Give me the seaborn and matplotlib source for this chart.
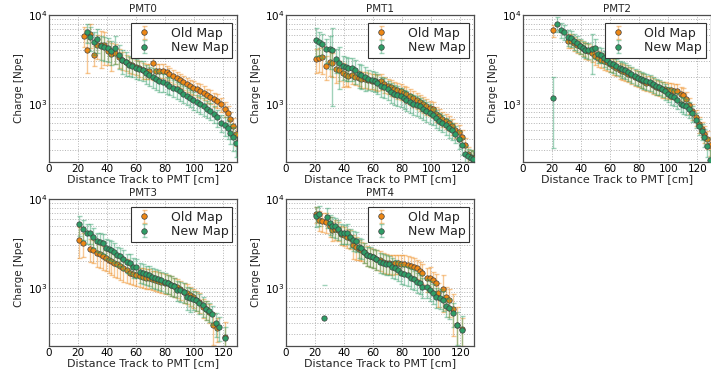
import matplotlib
matplotlib.use("Agg")
import matplotlib.pyplot as plt
import matplotlib.ticker as mticker
from matplotlib.lines import Line2D
import seaborn as sns
import pandas as pd
import numpy as np

# ---------------- data ----------------
panel_names = ["PMT0", "PMT1", "PMT2", "PMT3", "PMT4"]
series_labels = ["Old Map", "New Map"]
x_ticks = [0, 20, 40, 60, 80, 100, 120]

pmt0_old_x = [24, 26, 28.5, 31, 33, 36, 38, 40.5, 43, 45.5, 48, 50.5, 53, 55, 57.5, 60, 62, 64.5, 67, 69,
              71.5, 74, 76, 78.5, 81, 83, 85.5, 88, 90, 92.5, 95, 97, 99.5, 102, 104, 106.5, 109, 111, 113.5, 116,
              118.5, 121, 123, 125, 127, 128.5]
pmt0_old_y = [5800, 4000, 6100, 3550, 4550, 4600, 4600, 3900, 3600, 3750, 3350, 3100, 2950, 2800, 2700, 2600, 2500, 2400, 2350, 2350,
              2850, 2350, 2350, 2350, 2250, 2150, 2050, 1950, 1850, 1750, 1650, 1580, 1520, 1450, 1400, 1330, 1250, 1200, 1130, 1080,
              980, 880, 790, 680, 560, 450]
pmt0_old_err = [0.25, 0.45, 0.3, 0.25, 0.3, 0.45, 0.4, 0.3, 0.35, 0.25, 0.25, 0.22, 0.2, 0.2, 0.2, 0.2, 0.2, 0.2, 0.2, 0.2,
                0.35, 0.18, 0.18, 0.18, 0.18, 0.18, 0.18, 0.18, 0.18, 0.18, 0.18, 0.18, 0.18, 0.18, 0.18, 0.18, 0.18, 0.18, 0.18, 0.18,
                0.18, 0.2, 0.2, 0.2, 0.22, 0.25]
pmt0_new_x = [26, 28.5, 31, 33, 36, 38, 40.5, 43, 45.5, 48, 50.5, 53, 55, 57.5, 60, 62, 64.5, 67, 69, 71.5,
              74, 76, 78.5, 81, 83, 85.5, 88, 90, 92.5, 95, 97, 99.5, 102, 104, 106.5, 109, 111, 113.5, 116, 118.5,
              121, 123, 125, 127, 128.5]
pmt0_new_y = [6400, 5600, 5000, 5300, 4450, 4350, 4200, 3900, 4300, 3500, 3100, 2950, 2750, 2650, 2550, 2450, 2400, 2200, 2100, 2000,
              1900, 1820, 1750, 1660, 1590, 1520, 1450, 1380, 1300, 1230, 1170, 1100, 1040, 990, 940, 880, 830, 770, 700, 610,
              570, 530, 470, 420, 360]
pmt0_new_err = [0.25, 0.3, 0.3, 0.3, 0.3, 0.3, 0.3, 0.3, 0.35, 0.3, 0.3, 0.3, 0.25, 0.25, 0.25, 0.25, 0.25, 0.25, 0.25, 0.25,
                0.25, 0.25, 0.22, 0.22, 0.22, 0.22, 0.22, 0.22, 0.22, 0.22, 0.22, 0.22, 0.22, 0.22, 0.22, 0.22, 0.22, 0.22, 0.22, 0.22,
                0.25, 0.25, 0.25, 0.3, 0.3]

pmt1_x = [21, 23, 25, 27.5, 30, 32, 34.5, 36.5, 39, 41, 43, 45.5, 47.5, 50, 52, 54.5, 56.5, 59, 61, 63,
          65.5, 67.5, 70, 72, 74.5, 76.5, 79, 81, 83, 85.5, 87.5, 90, 92, 94.5, 96.5, 99, 101, 103, 105.5, 107.5,
          110, 112, 114.5, 116.5, 119, 121, 123, 125.5, 127.5, 129]
pmt1_old_y = [3200, 3270, 3350, 2650, 2950, 2880, 2450, 2400, 2200, 2130, 2050, 2080, 2020, 1960, 1900, 1880, 1850, 1820, 1790, 1760,
              1780, 1660, 1600, 1530, 1480, 1430, 1380, 1330, 1280, 1210, 1150, 1100, 1040, 980, 930, 900, 870, 770, 730, 680,
              640, 610, 560, 510, 480, 420, 340, 270, 250, 245]
pmt1_old_err = [0.3, 0.3, 0.35, 0.3, 0.3, 0.3, 0.3, 0.25, 0.3, 0.25, 0.25, 0.2, 0.2, 0.2, 0.2, 0.2, 0.2, 0.2, 0.2, 0.2,
                0.2, 0.2, 0.2, 0.2, 0.2, 0.2, 0.2, 0.2, 0.2, 0.2, 0.2, 0.2, 0.2, 0.2, 0.2, 0.2, 0.2, 0.2, 0.2, 0.2,
                0.2, 0.2, 0.2, 0.2, 0.2, 0.2, 0.2, 0.2, 0.2, 0.2]
pmt1_new_y = [5250, 4900, 4700, 4100, 4100, 4050, 3200, 2900, 2650, 2600, 2550, 2550, 2380, 2150, 2080, 1980, 1900, 1860, 1800, 1720,
              1600, 1560, 1450, 1360, 1300, 1260, 1210, 1150, 1100, 1040, 1000, 970, 930, 870, 830, 790, 740, 690, 640, 610,
              570, 530, 500, 460, 400, 340, 270, 255, 245, 240]
pmt1_new_err = [0.35, 0.3, 0.3, 0.3, 0.4, 0.77, 0.3, 0.5, 0.3, 0.3, 0.3, 0.3, 0.3, 0.3, 0.3, 0.3, 0.25, 0.25, 0.25, 0.25,
                0.25, 0.25, 0.25, 0.25, 0.25, 0.25, 0.25, 0.25, 0.25, 0.25, 0.25, 0.25, 0.25, 0.25, 0.25, 0.25, 0.22, 0.22, 0.22, 0.22,
                0.22, 0.22, 0.22, 0.22, 0.22, 0.22, 0.22, 0.22, 0.22, 0.22]

pmt2_old_x = [21, 31, 33, 35, 37, 39, 41, 43, 45, 47.5, 49.5, 51.5, 53.5, 56, 58, 60, 62, 64, 66.5, 68.5,
              70.5, 72.5, 74.5, 77, 79, 81, 83, 85, 87.5, 89.5, 91.5, 93.5, 95.5, 98, 100, 102, 104, 106, 108.5, 110.5,
              112.5, 114.5, 116.5, 119, 121, 123, 125, 127, 129]
pmt2_old_y = [6700, 5150, 5150, 4800, 4600, 4450, 4200, 4000, 3900, 3700, 3450, 3280, 3130, 3020, 2930, 2830, 2650, 2550, 2400, 2330,
              2250, 2180, 2080, 2000, 1940, 1870, 1800, 1720, 1700, 1620, 1560, 1510, 1460, 1450, 1420, 1420, 1400, 1380, 1300, 1250,
              1140, 960, 820, 700, 590, 520, 460, 400, 340]
pmt2_old_err = [0.15, 0.18, 0.18, 0.18, 0.18, 0.18, 0.18, 0.2, 0.2, 0.2, 0.2, 0.2, 0.2, 0.2, 0.2, 0.2, 0.2, 0.2, 0.2, 0.2,
                0.2, 0.2, 0.2, 0.2, 0.2, 0.2, 0.2, 0.2, 0.2, 0.2, 0.2, 0.2, 0.2, 0.2, 0.2, 0.2, 0.2, 0.2, 0.2, 0.2,
                0.2, 0.2, 0.2, 0.2, 0.2, 0.2, 0.22, 0.22, 0.25]
pmt2_new_x = [21, 23.5, 26, 28, 31, 33, 35, 37, 39, 41, 43, 45, 47.5, 49.5, 51.5, 53.5, 56, 58, 60, 62,
              64, 66.5, 68.5, 70.5, 72.5, 74.5, 77, 79, 81, 83, 85, 87.5, 89.5, 91.5, 93.5, 95.5, 98, 100, 102, 104,
              106, 108.5, 110.5, 112.5, 114.5, 116.5, 119, 121, 123, 125, 127, 129]
pmt2_new_y = [1160, 8000, 6800, 6450, 5600, 5500, 5050, 4800, 4500, 4250, 4080, 3980, 4150, 4250, 3600, 3550, 3250, 3100, 2880, 2780,
              2650, 2540, 2450, 2380, 2250, 2150, 2050, 1960, 1900, 1850, 1780, 1740, 1660, 1580, 1550, 1480, 1380, 1290, 1220, 1180,
              1100, 1000, 960, 940, 860, 780, 660, 560, 490, 420, 330, 230]
pmt2_new_err = [0.73, 0.2, 0.2, 0.2, 0.2, 0.2, 0.2, 0.2, 0.2, 0.2, 0.2, 0.2, 0.48, 0.25, 0.2, 0.2, 0.2, 0.2, 0.2, 0.2,
                0.2, 0.2, 0.2, 0.2, 0.2, 0.2, 0.2, 0.2, 0.2, 0.2, 0.2, 0.2, 0.2, 0.2, 0.2, 0.2, 0.2, 0.2, 0.2, 0.2,
                0.2, 0.2, 0.2, 0.2, 0.2, 0.2, 0.2, 0.2, 0.2, 0.22, 0.25, 0.3]

pmt3_old_x = [21, 23.5, 28, 30.5, 33, 35, 37, 39, 41, 43, 45, 47, 49, 51, 54, 56, 58, 60, 63, 65,
              67, 69, 71, 73, 75, 77, 80, 82, 84, 86, 88, 90, 93, 95, 97, 99, 101, 103, 106, 108,
              110, 113, 116, 121]
pmt3_old_y = [3480, 3190, 2750, 2680, 2460, 2380, 2260, 2180, 2070, 2000, 1900, 1840, 1750, 1650, 1600, 1470, 1420, 1390, 1350, 1330,
              1300, 1290, 1240, 1220, 1200, 1170, 1140, 1120, 1080, 1040, 1010, 960, 900, 880, 820, 780, 730, 690, 600, 570,
              530, 375, 350, 275]
pmt3_old_err = [0.38, 0.3, 0.3, 0.3, 0.3, 0.3, 0.3, 0.3, 0.3, 0.3, 0.3, 0.3, 0.3, 0.3, 0.3, 0.25, 0.25, 0.25, 0.25, 0.25,
                0.25, 0.25, 0.25, 0.25, 0.25, 0.25, 0.25, 0.25, 0.25, 0.25, 0.25, 0.25, 0.25, 0.25, 0.25, 0.25, 0.25, 0.25, 0.25, 0.25,
                0.25, 0.4, 0.3, 0.5]
pmt3_new_x = [21, 23.5, 26, 28, 30.5, 33, 35, 37, 39, 41, 43, 45, 47, 49, 51, 54, 56, 58, 60, 63,
              65, 67, 69, 71, 73, 75, 77, 80, 82, 84, 86, 88, 90, 93, 95, 97, 99, 101, 103, 106,
              108, 110, 112, 115, 117, 121]
pmt3_new_y = [5160, 4610, 4130, 4130, 3720, 3350, 3270, 3190, 2800, 2750, 2680, 2540, 2330, 2260, 2130, 1940, 1900, 1720, 1700, 1520,
              1470, 1420, 1390, 1330, 1300, 1260, 1210, 1170, 1120, 1080, 1040, 940, 930, 900, 790, 760, 740, 720, 680, 630,
              570, 540, 500, 400, 360, 270]
pmt3_new_err = [0.25, 0.25, 0.25, 0.25, 0.25, 0.25, 0.25, 0.25, 0.25, 0.25, 0.25, 0.25, 0.25, 0.25, 0.25, 0.25, 0.25, 0.25, 0.25, 0.25,
                0.25, 0.25, 0.25, 0.25, 0.25, 0.25, 0.25, 0.25, 0.25, 0.25, 0.25, 0.25, 0.25, 0.25, 0.3, 0.3, 0.25, 0.25, 0.25, 0.25,
                0.25, 0.25, 0.25, 0.3, 0.3, 0.35]

pmt4_old_x = [21, 23, 25, 27.5, 30, 32, 34, 36, 38, 40, 42, 44, 46, 48, 50, 52, 54, 56, 58, 60,
              62, 65, 67, 69, 71, 73, 75, 77, 79, 81, 84, 86, 88, 90, 92, 94, 97, 99, 101, 103,
              105, 108, 110, 112, 115, 118, 121]
pmt4_old_y = [6700, 5800, 5600, 5500, 5000, 4450, 4600, 4450, 4000, 3900, 3700, 3600, 3000, 2900, 2750, 2650, 2550, 2350, 2270, 2200,
              2130, 2050, 1970, 1920, 1880, 1870, 1890, 1880, 1870, 1850, 1800, 1760, 1720, 1650, 1560, 1480, 1270, 1300, 1210, 1140,
              870, 960, 790, 720, 570, 380, 340]
pmt4_old_err = [0.2, 0.25, 0.25, 0.25, 0.25, 0.25, 0.25, 0.25, 0.25, 0.25, 0.25, 0.25, 0.3, 0.3, 0.25, 0.25, 0.25, 0.25, 0.25, 0.25,
                0.25, 0.25, 0.25, 0.25, 0.25, 0.25, 0.25, 0.25, 0.25, 0.25, 0.25, 0.25, 0.25, 0.25, 0.25, 0.25, 0.3, 0.3, 0.25, 0.25,
                0.3, 0.45, 0.3, 0.35, 0.5, 0.6, 0.35]
pmt4_new_x = [21, 23, 26, 28, 30, 32, 34, 36, 38, 40, 42, 44, 46, 48, 50, 52, 54, 56, 58, 60,
              62, 65, 67, 69, 71, 73, 75, 77, 79, 81, 84, 86, 88, 90, 92, 94, 97, 99, 101, 103,
              106, 108, 110, 112, 115, 118, 121]
pmt4_new_y = [6500, 6700, 460, 6300, 5300, 5000, 4900, 4600, 4150, 4100, 4150, 3700, 3450, 3400, 2880, 2830, 2550, 2330, 2280, 2200,
              2130, 1960, 1920, 1870, 1840, 1720, 1650, 1570, 1470, 1420, 1380, 1300, 1240, 1170, 1120, 1030, 1010, 940, 870, 790,
              770, 730, 620, 590, 520, 380, 330]
pmt4_new_err = [0.25, 0.25, 1.33, 0.25, 0.25, 0.25, 0.25, 0.25, 0.25, 0.25, 0.25, 0.25, 0.25, 0.25, 0.25, 0.25, 0.25, 0.25, 0.25, 0.25,
                0.25, 0.25, 0.25, 0.25, 0.25, 0.25, 0.25, 0.25, 0.25, 0.25, 0.25, 0.25, 0.25, 0.25, 0.25, 0.25, 0.25, 0.25, 0.25, 0.25,
                0.25, 0.25, 0.25, 0.25, 0.3, 0.4, 0.45]

panels = [
    (pmt0_old_x, pmt0_old_y, pmt0_old_err, pmt0_new_x, pmt0_new_y, pmt0_new_err),
    (pmt1_x, pmt1_old_y, pmt1_old_err, pmt1_x, pmt1_new_y, pmt1_new_err),
    (pmt2_old_x, pmt2_old_y, pmt2_old_err, pmt2_new_x, pmt2_new_y, pmt2_new_err),
    (pmt3_old_x, pmt3_old_y, pmt3_old_err, pmt3_new_x, pmt3_new_y, pmt3_new_err),
    (pmt4_old_x, pmt4_old_y, pmt4_old_err, pmt4_new_x, pmt4_new_y, pmt4_new_err),
]

# ---------------- style ----------------
sns.set_theme(style="whitegrid")
plt.rcParams["font.family"] = ["DejaVu Sans"]
plt.rcParams["mathtext.fontset"] = "dejavusans"

c_old = "#ee8714"
c_new = "#2e9d66"

fig = plt.figure(figsize=(7.11, 3.70), dpi=100)
W, H = 711.0, 370.0
col_left = [49, 286, 523]
row_top = [15, 199]
aw, ah = 188, 147

for i, name in enumerate(panel_names):
    r, c = divmod(i, 3)
    ax = fig.add_axes([col_left[c] / W, 1 - (row_top[r] + ah) / H, aw / W, ah / H])
    ax.set_yscale("log", nonpositive="mask")
    ox, oy, oe, nx, ny, ne = panels[i]
    handles = []
    for lab, xs, ys, es, col, z in [(series_labels[0], ox, oy, oe, c_old, 2),
                                    (series_labels[1], nx, ny, ne, c_new, 4)]:
        df = pd.DataFrame({"x": xs, "y": ys, "err": np.array(es) * np.array(ys)})
        rgba = matplotlib.colors.to_rgba(col, 0.45)
        eb = ax.errorbar(df["x"], df["y"], yerr=df["err"], fmt="none", ecolor=rgba,
                         elinewidth=1.0, capsize=1.8, capthick=1.0, zorder=z)
        sns.scatterplot(data=df, x="x", y="y", ax=ax, color=col, s=15,
                        edgecolor="0.25", linewidth=0.5, zorder=z + 1, legend=False)
        mk = Line2D([], [], marker="o", color=col, markersize=4.0, markeredgecolor="0.25",
                    markeredgewidth=0.5, linestyle="none")
        handles.append(((eb, mk), lab))
    ax.set_xlim(0, 129.5)
    ax.set_ylim(220, 10000)
    ax.set_xticks(x_ticks)
    ax.yaxis.set_major_locator(mticker.LogLocator(base=10))
    ax.yaxis.set_minor_locator(mticker.LogLocator(base=10, subs=np.arange(2, 10)))
    ax.yaxis.set_minor_formatter(mticker.NullFormatter())
    ax.grid(True, which="major", color="0.7", linestyle=":", linewidth=0.7)
    ax.grid(True, which="minor", axis="y", color="0.7", linestyle=":", linewidth=0.7)
    ax.set_axisbelow(True)
    for sp in ax.spines.values():
        sp.set_color("0.3")
        sp.set_linewidth(0.9)
    ax.tick_params(axis="both", which="both", length=0, labelsize=7.5, pad=1.2, colors="black")
    ax.set_title(name, fontsize=7.5, pad=2)
    ax.set_xlabel("Distance Track to PMT [cm]", fontsize=8, labelpad=0.2)
    ax.set_ylabel("Charge [Npe]", fontsize=7.5, labelpad=3)
    leg = ax.legend([h for h, _ in handles], [l for _, l in handles], loc="upper right",
                    bbox_to_anchor=(1 - 5 / aw, 1 - 8 / ah), borderaxespad=0,
                    fontsize=9, frameon=True, fancybox=False, framealpha=1,
                    edgecolor="0.2", labelspacing=0.1,
                    handlelength=1.6, handletextpad=1.3, borderpad=0.3)
    leg.get_frame().set_linewidth(0.8)

fig.savefig("out.png", dpi=100)
